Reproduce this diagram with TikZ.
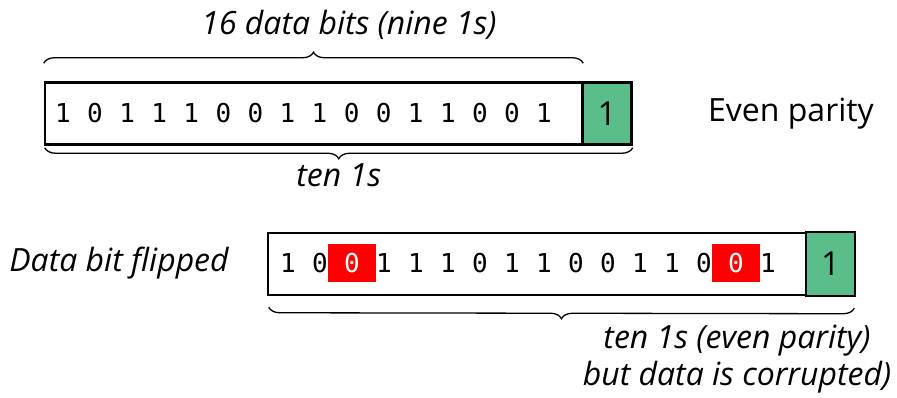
\documentclass[tikz,border=0pt]{standalone}
\usepackage{fontspec}
\setmainfont{Open Sans}
\newfontfamily\bitfont{DejaVu Sans Mono}
\usetikzlibrary{decorations.pathreplacing}
\definecolor{paritygreen}{HTML}{5BBD8A}
\definecolor{flipred}{HTML}{FF0000}
\tikzset{
    word/.style={draw, line width=2.5pt, minimum height=62pt, inner sep=0pt},
    paritybox/.style={word, fill=paritygreen, minimum width=49pt,
                      font=\fontsize{33}{38}\selectfont},
    bit/.style={font=\bitfont\fontsize{26}{30}\selectfont, inner sep=0pt},
    flipped/.style={bit, fill=flipred, text=white,
                    minimum width=48pt, minimum height=38pt},
    brace/.style={decorate, decoration={brace, amplitude=11pt}, line width=1.3pt},
    note/.style={font=\itshape\fontsize{32}{37}\selectfont, align=center},
    plain/.style={font=\fontsize{32}{37}\selectfont},
}

\begin{document}
\begin{tikzpicture}[x=1pt, y=1pt]
    \useasboundingbox (0,0) rectangle (897,398);

    % even parity word
    \node[word, minimum width=537pt] (dataA) at (313.5, 284.5) {};
    \node[paritybox] (parA) at (607, 284.5) {1};
    \foreach \b [count=\i from 0] in {1,0,1,1,1,0,0,1,1,0,0,1,1,0,0,1}
        \node[bit] (a\i) at ({63+32.07*\i}, 284.5) {\b};
    \node[plain] (evenA) at (791, 284) {Even parity};

    \draw[brace] ([yshift=18pt]dataA.north west) -- ([yshift=18pt]dataA.north east);
    \node[note] (countA) at (349, 373) {16 data bits (nine 1s)};
    \draw[brace] ([yshift=-2pt]parA.south east) -- ([xshift=1pt, yshift=-2pt]dataA.south west)
        node[note, midway, below=12pt] (tenA) {ten 1s};

    % corrupted word
    \node[word, minimum width=538pt] (dataB) at (537, 134) {};
    \node[paritybox, minimum height=64pt] (parB) at (830.5, 134) {1};
    \foreach \b/\s [count=\i from 0] in {1/bit,0/bit,0/flipped,1/bit,1/bit,1/bit,0/bit,1/bit,
                                        1/bit,0/bit,0/bit,1/bit,1/bit,0/bit,0/flipped,1/bit}
        \node[\s] (b\i) at ({288+32*\i}, 135) {\b};
    \node[note] (flipB) at (119, 135) {Data bit flipped};

    \draw[brace] ([xshift=-2pt, yshift=-11pt]parB.south east) -- ([xshift=2pt, yshift=-11pt]dataB.south west);
    \node[note] (tenB) at (737, 39) {ten 1s (even parity)\\but data is corrupted)};
\end{tikzpicture}
\end{document}
